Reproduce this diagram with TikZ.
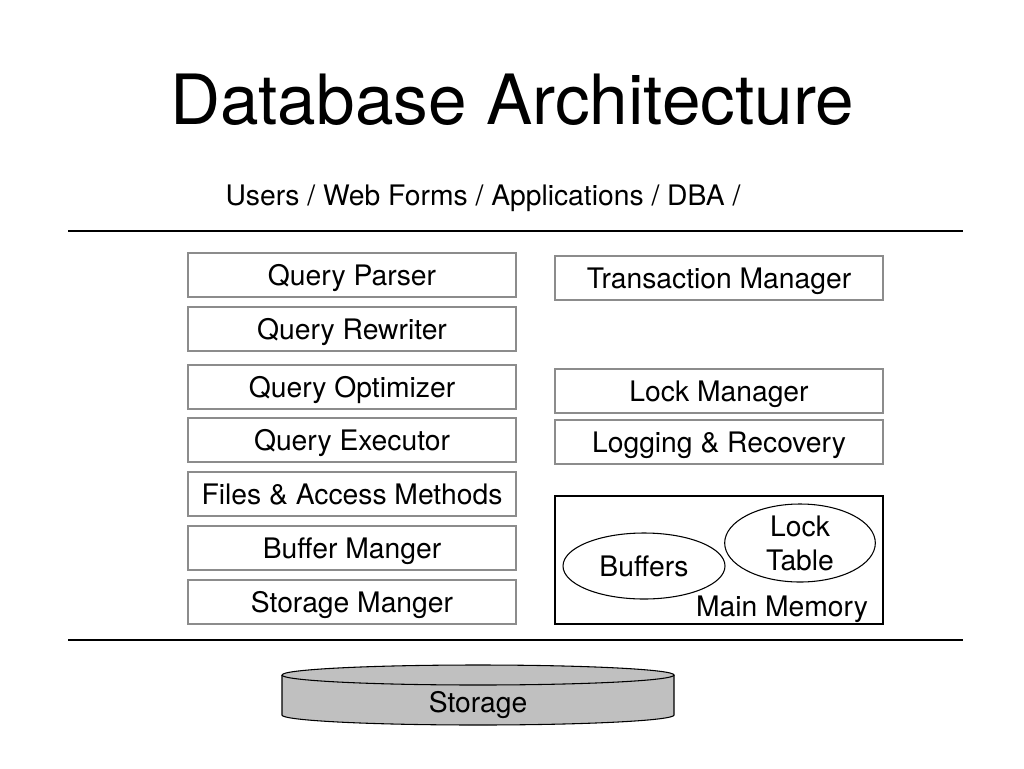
\documentclass[tikz,border=0pt]{standalone}
\usepackage{fontspec}
\setmainfont{TeX Gyre Heros}
\usepackage{xcolor}
\usepackage{tikz}
\usetikzlibrary{positioning,shapes.geometric}
\definecolor{boxgray}{RGB}{140,140,140}
\definecolor{diskgray}{RGB}{192,192,192}

\begin{document}
\begin{tikzpicture}[x=0.75pt,y=-0.75pt,
    layer/.style={draw=boxgray, line width=0.9pt, minimum width=246pt, minimum height=33pt, inner sep=0pt, text depth=0pt, font=\fontsize{21.2}{25}\selectfont},
    memarea/.style={draw, ellipse, line width=0.8pt, inner sep=0pt, align=center, font=\fontsize{21.2}{25.5}\selectfont},
    label/.style={text depth=0pt, font=\fontsize{21.2}{25}\selectfont}]
\useasboundingbox (0,0) rectangle (1024,768);

% Title and users
\node[font=\fontsize{52}{60}\selectfont] (title) at (512,100) {Database Architecture};
\node[label] (users) at (483,195) {Users / Web Forms / Applications / DBA /};

% Separators
\draw[line width=1.8pt] (68,231) -- (963,231);
\draw[line width=1.8pt] (68,640) -- (963,640);

% Query processing stack
\node[layer] (parser) at (352,275) {Query Parser};
\node[layer] (rewriter) at (352,329) {Query Rewriter};
\node[layer] (optimizer) at (352,387) {Query Optimizer};
\node[layer] (executor) at (352,440) {Query Executor};
\node[layer] (access) at (352,494) {Files \& Access Methods};
\node[layer] (buffermgr) at (352,548) {Buffer Manger};
\node[layer] (storagemgr) at (352,602) {Storage Manger};

% Transactions
\node[layer] (txn) at (719,278) {Transaction Manager};
\node[layer] (lockmgr) at (719,391) {Lock Manager};
\node[layer] (logging) at (719,442) {Logging \& Recovery};

% Main memory
\node[layer, draw=black, minimum height=96pt] (mainmem) at (719,560) {};
\node[memarea, minimum width=121.5pt, minimum height=49.5pt] (buffers) at (644,566) {Buffers};
\node[memarea, minimum width=113pt, minimum height=58.5pt] (locktable) at (800,543) {Lock\\Table};
\node[label] (memlabel) at (782,606) {Main Memory};

% Storage disk
\fill[diskgray] (282,675) rectangle (674,715);
\draw[fill=diskgray, line width=0.8pt] (282,675) -- (282,715) arc[start angle=180, end angle=0, x radius=196, y radius=10] -- (674,675);
\draw[fill=diskgray, line width=0.8pt] (478,675) ellipse [x radius=196, y radius=10];
\node[label] (storage) at (478,702) {Storage};
\end{tikzpicture}
\end{document}
